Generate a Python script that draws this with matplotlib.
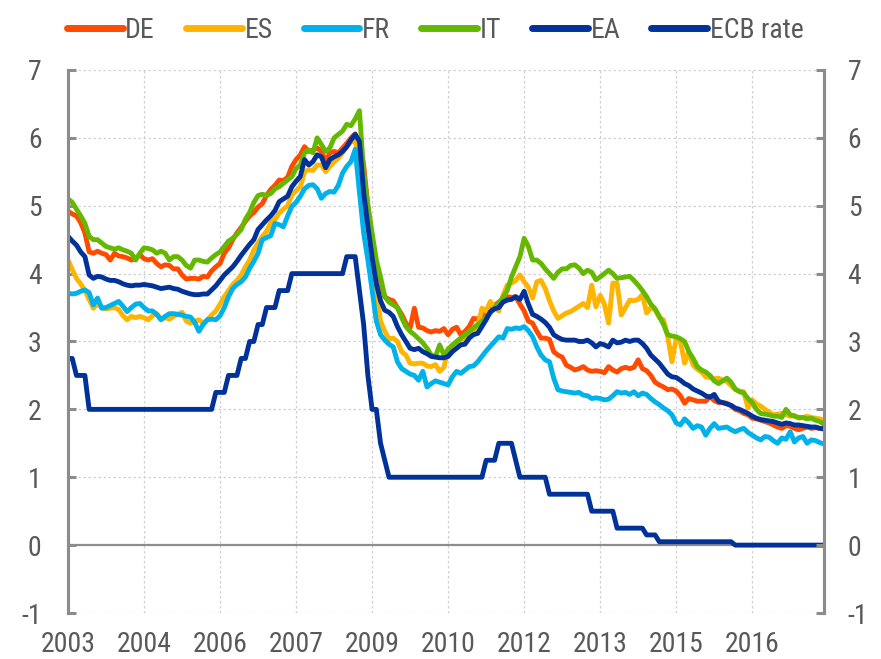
import numpy as np
import matplotlib
matplotlib.use("Agg")
import matplotlib.pyplot as plt
from matplotlib import font_manager


def pick_font(names):
    """Return the first installed family of names."""
    for n in names:
        try:
            font_manager.findfont(n, fallback_to_default=False)
            return n
        except ValueError:
            pass
    return "DejaVu Sans"


font = pick_font(["Liberation Sans Narrow", "Arial Narrow", "Roboto Condensed",
                  "Liberation Sans"])
plt.rcParams["font.family"] = [font, "DejaVu Sans"]
plt.rcParams["axes.unicode_minus"] = False

# monthly data, Jan 2003 - Dec 2017 (one row per year)
de = [
    4.92, 4.88, 4.85, 4.75, 4.60, 4.32, 4.30, 4.33, 4.30, 4.28, 4.20, 4.30,
    4.26, 4.25, 4.23, 4.20, 4.22, 4.28, 4.22, 4.20, 4.22, 4.15, 4.10, 4.13,
    4.12, 4.07, 4.07, 3.98, 3.92, 3.93, 3.93, 3.92, 3.96, 3.95, 4.04, 4.10,
    4.15, 4.30, 4.38, 4.50, 4.60, 4.68, 4.77, 4.85, 4.90, 4.98, 5.03, 5.15,
    5.24, 5.30, 5.38, 5.37, 5.42, 5.58, 5.68, 5.75, 5.87, 5.80, 5.82, 5.85,
    5.80, 5.65, 5.78, 5.80, 5.78, 5.85, 5.92, 6.00, 6.06, 5.90, 5.60, 5.00,
    4.50, 4.15, 3.85, 3.66, 3.62, 3.60, 3.50, 3.40, 3.27, 3.20, 3.49, 3.21,
    3.20, 3.16, 3.14, 3.16, 3.15, 3.19, 3.10, 3.18, 3.21, 3.10, 3.15, 3.22,
    3.34, 3.33, 3.38, 3.42, 3.48, 3.53, 3.58, 3.63, 3.66, 3.65, 3.66, 3.55,
    3.45, 3.30, 3.27, 3.15, 3.05, 3.05, 3.03, 2.85, 2.80, 2.77, 2.65, 2.62,
    2.58, 2.60, 2.63, 2.58, 2.56, 2.57, 2.56, 2.54, 2.63, 2.58, 2.55, 2.60,
    2.62, 2.60, 2.62, 2.73, 2.60, 2.57, 2.50, 2.40, 2.36, 2.33, 2.29, 2.30,
    2.27, 2.20, 2.09, 2.16, 2.14, 2.12, 2.12, 2.12, 2.19, 2.13, 2.10, 2.10,
    2.09, 2.05, 2.00, 1.98, 1.94, 1.92, 1.87, 1.86, 1.84, 1.82, 1.80, 1.77,
    1.74, 1.72, 1.76, 1.75, 1.72, 1.70, 1.72, 1.74, 1.72, 1.73, 1.72, 1.72,
]
es = [
    4.20, 4.06, 3.93, 3.85, 3.75, 3.62, 3.49, 3.56, 3.50, 3.48, 3.49, 3.50,
    3.47, 3.38, 3.32, 3.37, 3.35, 3.37, 3.35, 3.32, 3.38, 3.41, 3.33, 3.35,
    3.33, 3.37, 3.40, 3.43, 3.30, 3.27, 3.30, 3.32, 3.27, 3.32, 3.39, 3.45,
    3.55, 3.66, 3.75, 3.84, 3.90, 3.98, 4.10, 4.20, 4.35, 4.45, 4.55, 4.62,
    4.75, 4.80, 4.89, 4.95, 5.00, 5.16, 5.22, 5.28, 5.50, 5.53, 5.52, 5.60,
    5.60, 5.50, 5.58, 5.65, 5.70, 5.78, 5.87, 5.94, 5.96, 5.60, 5.10, 4.70,
    4.35, 3.80, 3.30, 3.15, 3.04, 3.05, 3.00, 2.85, 2.80, 2.68, 2.67, 2.68,
    2.68, 2.64, 2.63, 2.66, 2.56, 2.62, 2.90, 2.93, 2.96, 3.00, 3.05, 3.10,
    3.15, 3.22, 3.49, 3.45, 3.59, 3.50, 3.45, 3.68, 3.83, 3.86, 3.90, 3.98,
    3.88, 3.80, 3.64, 3.88, 3.90, 3.78, 3.60, 3.45, 3.34, 3.38, 3.42, 3.44,
    3.48, 3.52, 3.56, 3.50, 3.83, 3.51, 3.68, 3.55, 3.27, 3.86, 3.86, 3.39,
    3.50, 3.61, 3.60, 3.62, 3.69, 3.42, 3.50, 3.47, 3.35, 3.32, 3.07, 2.70,
    3.05, 3.00, 2.68, 2.85, 2.65, 2.59, 2.55, 2.48, 2.47, 2.45, 2.46, 2.43,
    2.41, 2.35, 2.29, 2.27, 2.26, 2.02, 2.14, 2.08, 2.05, 2.00, 1.96, 1.92,
    1.93, 1.94, 1.92, 1.90, 1.91, 1.87, 1.88, 1.90, 1.88, 1.87, 1.86, 1.84,
]
fr = [
    3.71, 3.70, 3.71, 3.74, 3.76, 3.72, 3.54, 3.64, 3.49, 3.50, 3.53, 3.56,
    3.59, 3.52, 3.44, 3.50, 3.55, 3.56, 3.50, 3.45, 3.45, 3.40, 3.32, 3.37,
    3.41, 3.41, 3.40, 3.39, 3.37, 3.36, 3.28, 3.15, 3.25, 3.32, 3.33, 3.32,
    3.38, 3.50, 3.66, 3.78, 3.84, 3.88, 3.95, 4.08, 4.18, 4.30, 4.50, 4.53,
    4.56, 4.74, 4.72, 4.69, 4.85, 4.99, 5.05, 5.14, 5.25, 5.30, 5.31, 5.25,
    5.11, 5.18, 5.21, 5.20, 5.30, 5.48, 5.58, 5.65, 5.83, 5.20, 4.60, 4.20,
    3.76, 3.30, 3.10, 3.02, 2.96, 2.92, 2.70, 2.60, 2.56, 2.52, 2.50, 2.43,
    2.56, 2.33, 2.38, 2.42, 2.40, 2.38, 2.36, 2.48, 2.56, 2.53, 2.58, 2.63,
    2.64, 2.70, 2.78, 2.86, 2.93, 3.00, 3.07, 3.05, 3.19, 3.18, 3.20, 3.19,
    3.22, 3.16, 3.07, 2.92, 2.80, 2.73, 2.70, 2.46, 2.29, 2.27, 2.26, 2.25,
    2.24, 2.25, 2.21, 2.20, 2.16, 2.17, 2.16, 2.14, 2.15, 2.20, 2.26, 2.24,
    2.25, 2.22, 2.26, 2.20, 2.24, 2.22, 2.16, 2.11, 2.07, 2.02, 1.98, 1.92,
    1.80, 1.77, 1.86, 1.80, 1.72, 1.76, 1.74, 1.62, 1.72, 1.79, 1.72, 1.73,
    1.74, 1.70, 1.67, 1.70, 1.72, 1.66, 1.62, 1.58, 1.55, 1.60, 1.59, 1.54,
    1.50, 1.58, 1.56, 1.67, 1.52, 1.58, 1.60, 1.50, 1.55, 1.54, 1.51, 1.49,
]
it = [
    5.10, 5.05, 4.95, 4.85, 4.74, 4.55, 4.50, 4.50, 4.45, 4.40, 4.38, 4.36,
    4.38, 4.35, 4.33, 4.30, 4.20, 4.30, 4.38, 4.37, 4.35, 4.30, 4.33, 4.30,
    4.20, 4.25, 4.25, 4.20, 4.12, 4.08, 4.20, 4.20, 4.18, 4.17, 4.23, 4.28,
    4.32, 4.40, 4.48, 4.52, 4.58, 4.65, 4.80, 4.90, 5.05, 5.15, 5.17, 5.15,
    5.18, 5.25, 5.28, 5.33, 5.38, 5.43, 5.55, 5.60, 5.78, 5.82, 5.78, 6.00,
    5.90, 5.80, 5.85, 6.00, 6.05, 6.10, 6.20, 6.18, 6.28, 6.40, 5.50, 5.00,
    4.60, 4.20, 3.95, 3.66, 3.58, 3.54, 3.50, 3.35, 3.22, 3.15, 3.10, 3.04,
    2.98, 2.90, 2.80, 2.78, 2.95, 2.80, 2.88, 2.95, 3.00, 3.05, 3.10, 3.15,
    3.20, 3.25, 3.30, 3.35, 3.42, 3.50, 3.56, 3.65, 3.75, 3.95, 4.10, 4.25,
    4.52, 4.40, 4.20, 4.20, 4.15, 4.07, 4.00, 3.93, 4.02, 4.07, 4.07, 4.12,
    4.13, 4.08, 4.00, 4.05, 4.02, 3.91, 3.95, 4.00, 4.05, 4.00, 3.93, 3.94,
    3.95, 3.96, 3.90, 3.83, 3.75, 3.66, 3.55, 3.48, 3.37, 3.25, 3.10, 3.08,
    3.07, 3.04, 3.00, 2.85, 2.75, 2.63, 2.58, 2.55, 2.50, 2.42, 2.38, 2.42,
    2.46, 2.40, 2.30, 2.26, 2.24, 2.16, 2.10, 2.00, 1.94, 1.93, 1.92, 1.90,
    1.90, 1.88, 2.00, 1.92, 1.90, 1.88, 1.88, 1.86, 1.87, 1.84, 1.82, 1.78,
]
ea = [
    4.55, 4.48, 4.42, 4.32, 4.25, 3.98, 3.93, 3.96, 3.95, 3.92, 3.90, 3.90,
    3.88, 3.85, 3.83, 3.82, 3.83, 3.83, 3.84, 3.83, 3.82, 3.80, 3.78, 3.79,
    3.80, 3.78, 3.77, 3.74, 3.72, 3.70, 3.69, 3.69, 3.70, 3.70, 3.76, 3.82,
    3.90, 3.98, 4.04, 4.10, 4.18, 4.27, 4.35, 4.43, 4.50, 4.65, 4.72, 4.79,
    4.85, 4.93, 5.06, 5.10, 5.14, 5.28, 5.36, 5.43, 5.68, 5.60, 5.65, 5.75,
    5.72, 5.56, 5.68, 5.72, 5.75, 5.80, 5.87, 5.97, 6.05, 5.95, 5.20, 4.70,
    4.24, 3.85, 3.60, 3.46, 3.43, 3.37, 3.22, 3.10, 3.00, 2.90, 2.88, 2.90,
    2.85, 2.82, 2.78, 2.77, 2.76, 2.76, 2.78, 2.85, 2.90, 2.95, 2.96, 3.05,
    3.10, 3.12, 3.22, 3.32, 3.44, 3.48, 3.50, 3.58, 3.61, 3.62, 3.66, 3.62,
    3.74, 3.55, 3.40, 3.37, 3.33, 3.28, 3.21, 3.10, 3.06, 3.03, 3.02, 3.02,
    3.02, 3.00, 3.00, 3.02, 2.98, 2.92, 2.97, 2.95, 2.92, 3.02, 2.98, 2.99,
    3.02, 3.00, 3.02, 3.02, 2.97, 2.90, 2.80, 2.74, 2.68, 2.60, 2.52, 2.48,
    2.47, 2.43, 2.38, 2.35, 2.30, 2.27, 2.24, 2.20, 2.18, 2.22, 2.12, 2.10,
    2.08, 2.06, 2.02, 2.00, 1.97, 1.94, 1.90, 1.87, 1.85, 1.84, 1.83, 1.82,
    1.80, 1.78, 1.80, 1.79, 1.77, 1.77, 1.76, 1.75, 1.74, 1.74, 1.72, 1.71,
]
ecb = [
    2.75, 2.75, 2.50, 2.50, 2.50, 2.00, 2.00, 2.00, 2.00, 2.00, 2.00, 2.00,
    2.00, 2.00, 2.00, 2.00, 2.00, 2.00, 2.00, 2.00, 2.00, 2.00, 2.00, 2.00,
    2.00, 2.00, 2.00, 2.00, 2.00, 2.00, 2.00, 2.00, 2.00, 2.00, 2.00, 2.25,
    2.25, 2.25, 2.50, 2.50, 2.50, 2.75, 2.75, 3.00, 3.00, 3.25, 3.25, 3.50,
    3.50, 3.50, 3.75, 3.75, 3.75, 4.00, 4.00, 4.00, 4.00, 4.00, 4.00, 4.00,
    4.00, 4.00, 4.00, 4.00, 4.00, 4.00, 4.25, 4.25, 4.25, 3.75, 3.25, 2.50,
    2.00, 2.00, 1.50, 1.25, 1.00, 1.00, 1.00, 1.00, 1.00, 1.00, 1.00, 1.00,
    1.00, 1.00, 1.00, 1.00, 1.00, 1.00, 1.00, 1.00, 1.00, 1.00, 1.00, 1.00,
    1.00, 1.00, 1.00, 1.25, 1.25, 1.25, 1.50, 1.50, 1.50, 1.50, 1.25, 1.00,
    1.00, 1.00, 1.00, 1.00, 1.00, 1.00, 0.75, 0.75, 0.75, 0.75, 0.75, 0.75,
    0.75, 0.75, 0.75, 0.75, 0.50, 0.50, 0.50, 0.50, 0.50, 0.50, 0.25, 0.25,
    0.25, 0.25, 0.25, 0.25, 0.25, 0.15, 0.15, 0.15, 0.05, 0.05, 0.05, 0.05,
    0.05, 0.05, 0.05, 0.05, 0.05, 0.05, 0.05, 0.05, 0.05, 0.05, 0.05, 0.05,
    0.05, 0.05, 0.00, 0.00, 0.00, 0.00, 0.00, 0.00, 0.00, 0.00, 0.00, 0.00,
    0.00, 0.00, 0.00, 0.00, 0.00, 0.00, 0.00, 0.00, 0.00, 0.00, 0.00, 0.00,
]

series = [("DE", de, "#FF4B00"), ("ES", es, "#FFB400"), ("FR", fr, "#00B1EA"),
          ("IT", it, "#65B800"), ("EA", ea, "#003299"), ("ECB rate", ecb, "#003299")]
tick_months = [0, 18, 36, 54, 72, 90, 108, 126, 144, 162]
tick_labels = ["2003", "2004", "2006", "2007", "2009", "2010", "2012", "2013", "2015", "2016"]

text_col = "#595959"
axis_col = "#8c8c8c"
grid_col = "#d0d0d0"

fig = plt.figure(figsize=(8.81, 6.59), dpi=100)
ax = fig.add_axes([0.0772, 0.0698, 0.8581, 0.824])

months = np.arange(len(de))
for name, vals, col in series:
    ax.plot(months, vals, color=col, lw=3.5, label=name, solid_capstyle="round")

ax.set_xlim(0, 179)
ax.set_ylim(-1, 7)
ax.set_yticks(range(-1, 8))
ax.set_xticks(tick_months)
ax.set_xticklabels(tick_labels)

# grid: dotted, zero line solid
for y in list(range(1, 8)) + [-1]:
    ax.axhline(y, color=grid_col, lw=0.9, ls=(0, (2, 2)), zorder=0)
for m in tick_months[1:]:
    ax.axvline(m, color=grid_col, lw=0.9, ls=(0, (2, 2)), zorder=0)
ax.axhline(0, color=axis_col, lw=1.6, zorder=1)

# right-hand copy of the y axis
ax2 = ax.twinx()
ax2.set_ylim(-1, 7)
ax2.set_yticks(range(-1, 8))

for a in (ax, ax2):
    for s in ["top", "bottom"]:
        a.spines[s].set_visible(False)
    for s in ["left", "right"]:
        a.spines[s].set_color(axis_col)
        a.spines[s].set_linewidth(2.2)
    a.tick_params(axis="y", direction="in", length=5.5, width=2.2, color=axis_col,
                  labelsize=20, labelcolor=text_col, pad=17)

ax.tick_params(axis="y", left=True, right=False, labelleft=True, labelright=False,
               pad=19)
ax2.tick_params(axis="y", left=False, right=True, labelleft=False, labelright=True)
ax.tick_params(axis="x", length=0, labelsize=20, labelcolor=text_col, pad=13)

leg = ax.legend(loc="upper center", bbox_to_anchor=(0.494, 1.012), ncol=6,
                bbox_transform=fig.transFigure, frameon=False, fontsize=20,
                handlelength=2.0, handletextpad=0.1, columnspacing=1.12,
                labelcolor=text_col)
for h in leg.legend_handles:
    h.set_linewidth(5)

fig.savefig("out.png", dpi=100)
